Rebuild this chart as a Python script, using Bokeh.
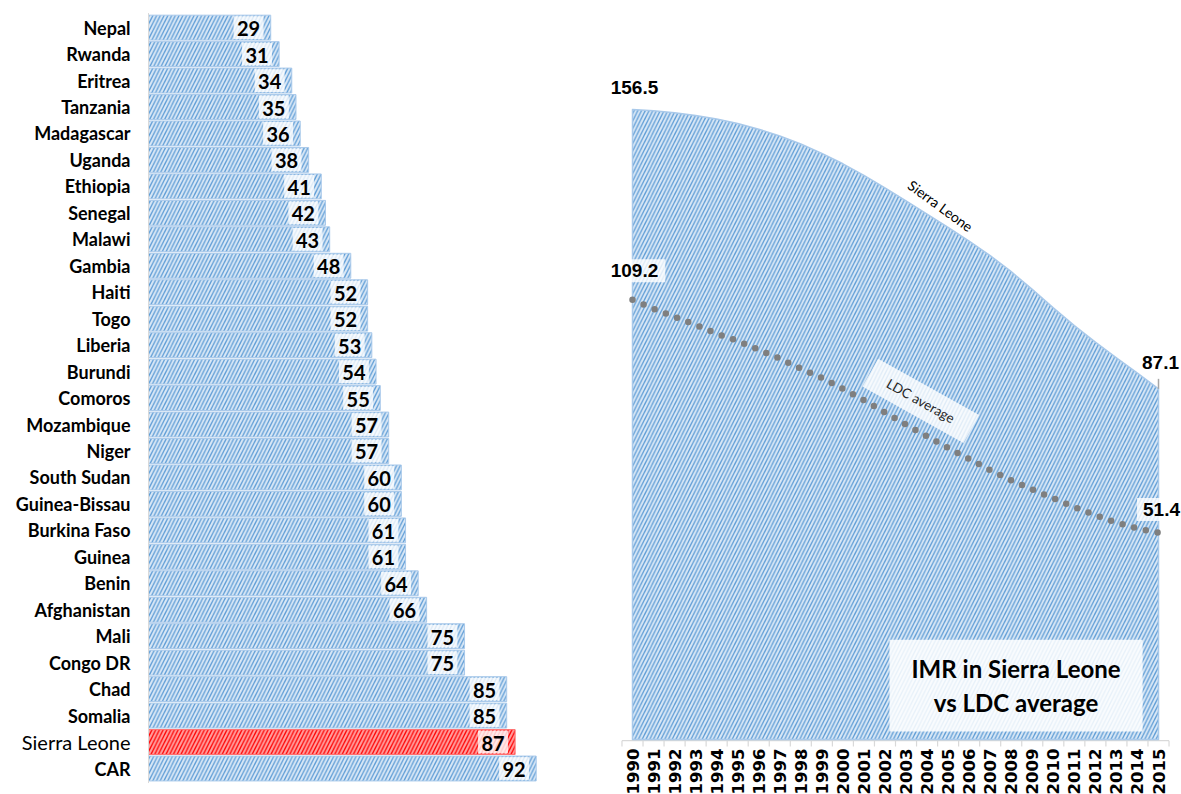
import math
import numpy as np
from bokeh.plotting import figure
from bokeh.models import ColumnDataSource, Range1d, LinearScale
from bokeh.core.properties import value
from bokeh.embed import file_html
from bokeh.resources import INLINE

# ---------------- data ----------------
countries = ["Nepal", "Rwanda", "Eritrea", "Tanzania", "Madagascar", "Uganda",
             "Ethiopia", "Senegal", "Malawi", "Gambia", "Haiti", "Togo", "Liberia",
             "Burundi", "Comoros", "Mozambique", "Niger", "South Sudan",
             "Guinea-Bissau", "Burkina Faso", "Guinea", "Benin", "Afghanistan",
             "Mali", "Congo DR", "Chad", "Somalia", "Sierra Leone", "CAR"]
imr_2015 = [29, 31, 34, 35, 36, 38, 41, 42, 43, 48, 52, 52, 53, 54, 55, 57, 57,
            60, 60, 61, 61, 64, 66, 75, 75, 85, 85, 87, 92]
highlight = "Sierra Leone"

years = list(range(1990, 2016))
year_labels = [str(y) for y in years]
sierra_leone = [156.5, 156.2, 155.7, 155.0, 154.1, 153.0, 151.6, 149.9, 147.9,
                145.6, 143.0, 140.1, 137.0, 133.8, 130.5, 127.2, 123.8, 120.2,
                116.2, 111.8, 107.2, 102.8, 98.7, 94.8, 91.0, 87.1]
ldc_average = [109.2, 107.0, 105.0, 103.0, 100.8, 99.0, 96.8, 94.6, 92.1, 89.8,
               87.1, 84.3, 81.2, 78.2, 75.3, 72.4, 69.7, 66.9, 64.4, 62.1, 59.9,
               57.7, 55.7, 53.9, 52.4, 51.4]
chart_title = "IMR in Sierra Leone\nvs LDC average"
series_label = "Sierra Leone"
ldc_label = "LDC average"

# ---------------- styles ----------------
BLUE_FILL = "#dae8f6"
BLUE_HATCH = "#5b9bd5"
BLUE_EDGE = "#a9c9ea"
RED_FILL = "#ffa0a0"
RED_HATCH = "#ff0000"
RED_EDGE = "#ff7070"
GREY = "#d9d9d9"
LATO = "Lato"
SANS = "Liberation Sans"
W, H = 1181, 794

# ---------------- scales (page geometry) ----------------
bar_px_per_unit = 4.214
bar_zero_px = 148
row_px = 26.46
last_row_center_px = 768
n = len(countries)

yr_px = 21.04
first_year_px = 632
val_px = 4.026
base_px = 739

p = figure(width=W, height=H,
           x_range=Range1d(-bar_zero_px / bar_px_per_unit,
                           (W - bar_zero_px) / bar_px_per_unit),
           y_range=Range1d(-(H - last_row_center_px) / row_px,
                           last_row_center_px / row_px),
           output_backend="svg", toolbar_location=None,
           x_axis_location=None, y_axis_location=None,
           min_border=0, min_border_left=0, min_border_right=0,
           min_border_top=0, min_border_bottom=0)
p.extra_x_ranges = {"yr": Range1d(years[0] - first_year_px / yr_px,
                                  years[0] + (W - first_year_px) / yr_px)}
p.extra_y_ranges = {"imr": Range1d(-(H - base_px) / val_px, base_px / val_px)}
p.extra_x_scales = {"yr": LinearScale()}
p.extra_y_scales = {"imr": LinearScale()}
p.grid.visible = False
p.outline_line_color = None
p.background_fill_color = "white"
p.border_fill_color = "white"

# ---------------- left: bar chart ----------------
is_hl = [c == highlight for c in countries]
src = ColumnDataSource(dict(
    cat=countries,
    row=[n - 1 - i for i in range(n)],
    val=imr_2015,
    fill=[RED_FILL if h else BLUE_FILL for h in is_hl],
    hatch=[RED_HATCH if h else BLUE_HATCH for h in is_hl],
    edge=[RED_EDGE if h else BLUE_EDGE for h in is_hl],
    box_l=[v - 8.8 for v in imr_2015],
    box_r=[v - 1.7 for v in imr_2015],
    lab_x=[v - 5.25 for v in imr_2015],
    lab=[str(v) for v in imr_2015],
    style=["normal" if h else "bold" for h in is_hl],
    size=["20px" if h else "18px" for h in is_hl],
))

p.hbar(y="row", left=0, right="val", height=0.94, source=src,
       fill_color="fill", hatch_pattern="/", hatch_color="hatch",
       hatch_scale=7.5, hatch_weight=1.3, line_color="edge", line_width=1)
p.hbar(y="row", left="box_l", right="box_r", height=0.86, source=src,
       fill_color="white", fill_alpha=0.78, line_color=None)
p.text(x="lab_x", y="row", text="lab", source=src, text_align="center",
       text_baseline="middle", y_offset=1, text_font=value(LATO),
       text_font_style="bold", text_font_size="20px", text_color="black")
p.text(x=0, y="row", text="cat", source=src, x_offset=-18, text_align="right",
       text_baseline="middle", text_font=value(LATO), text_font_style="style",
       text_font_size="size", text_color="black")
p.segment(x0=[0], y0=[-0.55], x1=[0], y1=[n - 0.45], line_color=GREY,
          line_width=1)

# ---------------- right: area chart ----------------
R = dict(x_range_name="yr", y_range_name="imr")

# category axis (drawn as marks on the year scale)
tick_pos = [y - 0.5 for y in years] + [years[-1] + 0.5]
p.segment(x0=[tick_pos[0]], y0=[-0.3], x1=[tick_pos[-1]], y1=[-0.3],
          line_color=GREY, line_width=1.2, **R)
p.segment(x0=tick_pos, y0=[-0.3] * len(tick_pos), x1=tick_pos,
          y1=[-7 / val_px] * len(tick_pos), line_color=GREY, line_width=1.2, **R)
p.text(x=years, y=[0] * len(years), text=year_labels, angle=math.pi / 2,
       y_offset=9, text_align="right", text_baseline="middle",
       text_font=value("DejaVu Sans"), text_font_style="bold",
       text_font_size="16.5px", text_color="black", **R)

xs = [years[0]] + years + [years[-1]]
ys = [0] + sierra_leone + [0]
p.patch(xs, ys, fill_color=BLUE_FILL, hatch_pattern="/", hatch_color=BLUE_HATCH,
        hatch_scale=7.5, hatch_weight=1.3, line_color=BLUE_EDGE, line_width=1.5,
        line_join="round", **R)

p.line(years, ldc_average, line_color="#7f7f7f", line_width=6.5,
       line_dash="0 12", line_cap="round", **R)

lab_font = dict(text_font=value(SANS), text_font_style="bold",
                text_font_size="19px", text_color="black",
                text_align="center", text_baseline="middle")
p.text(x=[years[0]], y=[sierra_leone[0]], text=[f"{sierra_leone[0]:.1f}"],
       x_offset=2, y_offset=-22, **lab_font, **R)
p.text(x=[years[0]], y=[ldc_average[0]], text=[f"{ldc_average[0]:.1f}"],
       x_offset=2, y_offset=-29, background_fill_color="white",
       background_fill_alpha=0.8, padding=dict(x=7, y=5), **lab_font, **R)
p.text(x=[years[-1]], y=[sierra_leone[-1]], text=[f"{sierra_leone[-1]:.1f}"],
       x_offset=2, y_offset=-26, **lab_font, **R)
p.segment(x0=[years[-1]], y0=[sierra_leone[-1]], x1=[years[-1]],
          y1=[sierra_leone[-1] + 10 / val_px], line_color="#a6a6a6",
          line_width=1.5, **R)
p.text(x=[years[-1]], y=[ldc_average[-1]], text=[f"{ldc_average[-1]:.1f}"],
       x_offset=3, y_offset=-23, background_fill_color="white",
       background_fill_alpha=0.8, padding=dict(x=6, y=5), **lab_font, **R)

# series name on the curve
sl_lab_year = 2004.5
p.text(x=[sl_lab_year], y=[float(np.interp(sl_lab_year, years, sierra_leone))],
       text=[series_label], angle=-0.63, x_offset=3, y_offset=-15,
       text_font=value(LATO), text_font_size="14px", text_color="black",
       text_align="center", text_baseline="middle", **R)

# LDC label
ldc_lab_year = 2003.7
p.text(x=[ldc_lab_year], y=[float(np.interp(ldc_lab_year, years, ldc_average))],
       text=[ldc_label], angle=-0.51, y_offset=-32,
       text_font=value(LATO), text_font_size="13.5px", text_color="#262626",
       text_align="center", text_baseline="middle",
       background_fill_color="white", background_fill_alpha=0.8,
       padding=dict(x=20, y=8), **R)

# title box
title_year, title_val = 2008.23, 13.4
p.text(x=[title_year], y=[title_val], text=[chart_title],
       text_font=value(LATO), text_font_style="bold", text_font_size="24px",
       text_color="black", text_align="center", text_baseline="middle",
       text_line_height=1.2, background_fill_color="white",
       background_fill_alpha=0.85, padding=dict(x=22, y=14), **R)

open("out.html", "w").write(file_html(p, INLINE))
